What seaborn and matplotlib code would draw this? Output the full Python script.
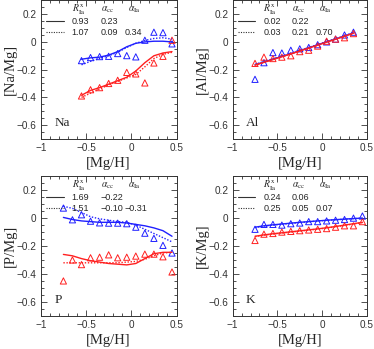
import matplotlib
matplotlib.use("Agg")
import matplotlib.pyplot as plt
from matplotlib.ticker import MultipleLocator
import numpy as np
import pandas as pd
import seaborn as sns

# ---- data ----
mgh_11 = [-0.55, -0.45, -0.35, -0.25, -0.15, -0.05, 0.05, 0.15, 0.25, 0.35, 0.45]
mgh_12 = [-0.75, -0.65, -0.55, -0.45, -0.35, -0.25, -0.15, -0.05, 0.05, 0.15, 0.25, 0.35]
mgh_13 = [-0.75, -0.65, -0.55, -0.45, -0.35, -0.25, -0.15, -0.05, 0.05, 0.15, 0.25, 0.35, 0.45]

# Na
na_blue_pts = [-0.135, -0.113, -0.106, -0.104, -0.084, -0.099, -0.108, 0.012, 0.070, 0.067, -0.014]
na_red_pts = [-0.390, -0.345, -0.330, -0.300, -0.277, -0.220, -0.231, -0.296, -0.152, -0.104, 0.012]
na_blue_solid = [-0.125, -0.115, -0.110, -0.095, -0.070, -0.035, -0.010, 0.000, 0.005, 0.005, 0.000]
na_blue_dot = [-0.165, -0.140, -0.120, -0.100, -0.075, -0.040, -0.010, 0.010, 0.025, 0.030, 0.020]
na_red_solid = [-0.385, -0.350, -0.330, -0.305, -0.280, -0.255, -0.210, -0.150, -0.100, -0.080, -0.070]
na_red_dot = [-0.400, -0.370, -0.340, -0.310, -0.285, -0.260, -0.235, -0.180, -0.120, -0.090, -0.075]

# Al
al_blue_pts = [-0.270, -0.150, -0.077, -0.080, -0.060, -0.050, -0.040, -0.020, 0.000, 0.020, 0.050, 0.070]
al_red_pts = [-0.155, -0.110, -0.120, -0.110, -0.100, -0.070, -0.060, -0.030, 0.005, 0.020, 0.030, 0.060]
al_blue_solid = [-0.165, -0.145, -0.125, -0.105, -0.085, -0.063, -0.042, -0.021, 0.000, 0.021, 0.043, 0.065]
al_blue_dot = [-0.162, -0.142, -0.122, -0.102, -0.082, -0.061, -0.040, -0.019, 0.002, 0.023, 0.045, 0.067]
al_red_solid = [-0.168, -0.148, -0.128, -0.107, -0.087, -0.066, -0.045, -0.024, -0.002, 0.019, 0.041, 0.063]
al_red_dot = [-0.166, -0.146, -0.126, -0.105, -0.085, -0.064, -0.043, -0.022, 0.000, 0.021, 0.042, 0.064]

# P
p_blue_pts = [0.072, -0.012, 0.024, -0.022, -0.034, -0.036, -0.036, -0.040, -0.065, -0.108, -0.145, -0.195, -0.250]
p_red_pts = [-0.450, -0.300, -0.333, -0.284, -0.280, -0.263, -0.284, -0.280, -0.272, -0.258, -0.258, -0.277, -0.386]
p_blue_solid = [0.005, -0.010, -0.020, -0.025, -0.030, -0.030, -0.030, -0.035, -0.045, -0.055, -0.070, -0.090, -0.130]
p_blue_dot = [0.085, 0.070, 0.040, 0.010, -0.005, -0.015, -0.025, -0.030, -0.050, -0.080, -0.110, -0.140, -0.170]
p_red_solid = [-0.260, -0.270, -0.290, -0.305, -0.315, -0.325, -0.330, -0.335, -0.325, -0.290, -0.255, -0.245, -0.245]
p_red_dot = [-0.320, -0.320, -0.320, -0.320, -0.320, -0.320, -0.320, -0.315, -0.310, -0.295, -0.270, -0.250, -0.245]

# K
k_blue_pts = [-0.080, -0.045, -0.045, -0.050, -0.040, -0.035, -0.025, -0.025, -0.020, -0.015, -0.010, 0.000, 0.015]
k_red_pts = [-0.160, -0.115, -0.110, -0.100, -0.095, -0.090, -0.085, -0.080, -0.075, -0.065, -0.055, -0.055, -0.025]
k_blue_solid = [-0.065, -0.055, -0.048, -0.042, -0.036, -0.030, -0.025, -0.020, -0.015, -0.011, -0.007, -0.003, 0.000]
k_blue_dot = [-0.068, -0.057, -0.050, -0.044, -0.038, -0.032, -0.026, -0.021, -0.016, -0.012, -0.008, -0.004, -0.001]
k_red_solid = [-0.130, -0.120, -0.112, -0.105, -0.098, -0.091, -0.084, -0.077, -0.069, -0.060, -0.050, -0.040, -0.030]
k_red_dot = [-0.132, -0.122, -0.114, -0.107, -0.100, -0.093, -0.086, -0.079, -0.071, -0.062, -0.052, -0.042, -0.032]

elements = ["Na", "Al", "P", "K"]
rx_vals = [["0.93", "1.07"], ["0.02", "0.03"], ["1.69", "1.51"], ["0.24", "0.25"]]
acc_vals = [["0.23", "0.09"], ["0.22", "0.21"], ["\u22120.22", "\u22120.10"], ["0.06", "0.05"]]
aia_vals = ["0.34", "0.70", "\u22120.31", "0.07"]

panels = [
    (mgh_11, na_blue_pts, na_red_pts, na_blue_solid, na_blue_dot, na_red_solid, na_red_dot),
    (mgh_12, al_blue_pts, al_red_pts, al_blue_solid, al_blue_dot, al_red_solid, al_red_dot),
    (mgh_13, p_blue_pts, p_red_pts, p_blue_solid, p_blue_dot, p_red_solid, p_red_dot),
    (mgh_13, k_blue_pts, k_red_pts, k_blue_solid, k_blue_dot, k_red_solid, k_red_dot),
]

BLUE = "#2020ff"
RED = "#ff2020"
SANS = "Liberation Sans"
SERIF = "Liberation Serif"

sns.set_style("ticks")
plt.rcParams["font.family"] = [SANS, "DejaVu Sans"]
plt.rcParams["mathtext.fontset"] = "stix"

fig = plt.figure(figsize=(3.74, 3.49), dpi=100)
rects = [
    [0.109, 0.602, 0.363, 0.397],
    [0.622, 0.602, 0.359, 0.397],
    [0.109, 0.095, 0.363, 0.400],
    [0.622, 0.095, 0.359, 0.400],
]

for i, (x, bp, rp, bs, bd, rs, rd) in enumerate(panels):
    ax = fig.add_axes(rects[i])
    df = pd.DataFrame({"x": x, "bp": bp, "rp": rp, "bs": bs, "bd": bd, "rs": rs, "rd": rd})
    sns.lineplot(data=df, x="x", y="bs", ax=ax, color=BLUE, lw=1.0)
    sns.lineplot(data=df, x="x", y="bd", ax=ax, color=BLUE, lw=1.0, linestyle=(0, (1, 1.2)))
    sns.lineplot(data=df, x="x", y="rs", ax=ax, color=RED, lw=1.0)
    sns.lineplot(data=df, x="x", y="rd", ax=ax, color=RED, lw=1.0, linestyle=(0, (1, 1.2)))
    sns.scatterplot(data=df, x="x", y="bp", ax=ax, marker="^", s=20,
                    facecolor="none", edgecolor=BLUE, linewidth=0.7)
    sns.scatterplot(data=df, x="x", y="rp", ax=ax, marker="^", s=20,
                    facecolor="none", edgecolor=RED, linewidth=0.7)

    ax.set_xlim(-1, 0.5)
    ax.set_ylim(-0.7, 0.3)
    ax.xaxis.set_minor_locator(MultipleLocator(0.1))
    ax.yaxis.set_minor_locator(MultipleLocator(0.05))
    ax.set_xticks([-1, -0.5, 0, 0.5])
    ax.set_xticklabels(["\u22121", "\u22120.5", "0", "0.5"])
    ax.set_yticks([-0.6, -0.4, -0.2, 0, 0.2])
    ax.set_yticklabels(["\u22120.6", "\u22120.4", "\u22120.2", "0", "0.2"])
    ax.tick_params(which="both", direction="in", top=True, right=True,
                   labelsize=7.2, width=0.6, colors="#333333", pad=3)
    ax.tick_params(which="major", length=4)
    ax.tick_params(which="minor", length=2)
    for sp in ax.spines.values():
        sp.set_linewidth(0.7)
        sp.set_color("#333333")

    ax.set_xlabel("[Mg/H]", family=SERIF, fontsize=10.5, labelpad=3)
    ax.set_ylabel(f"[{elements[i]}/Mg]", family=SERIF, fontsize=10.5, labelpad=0)
    ax.text(0.10, 0.09, elements[i], transform=ax.transAxes, family=SERIF, fontsize=9.5)

    # legend block
    fs = 6.5
    ax.text(0.228, 0.93, r"$R^{\rm x}_{\rm Ia}$", transform=ax.transAxes, fontsize=7, va="center")
    ax.text(0.44, 0.93, r"$\alpha_{\rm cc}$", transform=ax.transAxes, fontsize=7, va="center")
    ax.text(0.645, 0.93, r"$\alpha_{\rm Ia}$", transform=ax.transAxes, fontsize=7, va="center")
    ax.plot([0.04, 0.17], [0.85, 0.85], transform=ax.transAxes, color="#333333", lw=0.8)
    ax.plot([0.04, 0.17], [0.77, 0.77], transform=ax.transAxes, color="#333333", lw=0.8,
            ls=(0, (1, 1.2)))
    ax.text(0.228, 0.85, rx_vals[i][0], transform=ax.transAxes, fontsize=fs, va="center")
    ax.text(0.44, 0.85, acc_vals[i][0], transform=ax.transAxes, fontsize=fs, va="center")
    ax.text(0.228, 0.77, rx_vals[i][1], transform=ax.transAxes, fontsize=fs, va="center")
    ax.text(0.44, 0.77, acc_vals[i][1], transform=ax.transAxes, fontsize=fs, va="center")
    ax.text(0.615, 0.77, aia_vals[i], transform=ax.transAxes, fontsize=fs, va="center")

fig.savefig("out.png", dpi=100)
